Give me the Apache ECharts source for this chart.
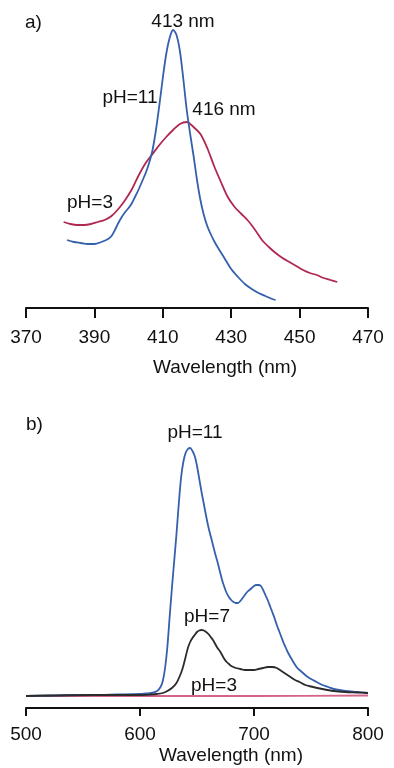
<!DOCTYPE html>
<html>
<head>
<meta charset="utf-8">
<script src="https://cdn.jsdelivr.net/npm/echarts@6/dist/echarts.min.js"></script>
<style>
  html, body { margin: 0; padding: 0; background: #fff; }
  #chart { width: 394px; height: 768px; }
</style>
</head>
<body>
<div id="chart"></div>
<script>
// a) absorbance (arbitrary units) vs wavelength
const wlA11 = [382, 384, 386, 388, 390, 392, 394, 395, 396, 397, 398, 399, 400, 401, 402, 403, 404, 405, 406, 407, 408, 409, 410, 411, 412, 413, 414, 415, 416, 417, 418, 419, 420, 421, 422, 423, 424, 425, 426, 428, 430, 432, 434, 436, 438, 440, 442, 443];
const absA11 = [68, 66, 65, 64, 64, 66, 69, 72, 78, 85, 91, 96, 100, 105, 112, 119, 127, 135, 145, 158, 178, 203, 230, 254, 270, 278, 273, 257, 229, 198, 174, 152, 128, 108, 93, 82, 74, 67, 61, 50, 39, 31, 24, 19, 15, 12, 9, 8];
const wlA3 = [381, 383, 385, 387, 389, 391, 393, 395, 397, 399, 401, 403, 405, 407, 409, 411, 413, 415, 417, 418, 419, 421, 423, 425, 427, 429, 431, 433, 435, 437, 439, 441, 443, 445, 447, 449, 451, 453, 455, 457, 459, 461];
const absA3 = [86, 84, 83, 83, 84, 86, 88, 92, 99, 108, 119, 133, 145, 154, 163, 171, 178, 184, 186, 184, 181, 174, 160, 142, 126, 111, 101, 94, 87, 78, 68, 61, 55, 50, 46, 42, 38, 35, 33, 30, 28, 26];
const ticksA = [370, 390, 410, 430, 450, 470];

// b) emission (arbitrary units) vs wavelength
const wlB11 = [500, 520, 540, 560, 580, 600, 605, 610, 615, 618, 620, 622, 624, 626, 628, 630, 632, 634, 636, 638, 640, 642, 644, 646, 648, 650, 652, 654, 656, 658, 660, 662, 664, 666, 668, 670, 672, 674, 676, 678, 680, 682, 684, 686, 688, 690, 692, 694, 696, 698, 700, 702, 704, 706, 708, 710, 712, 714, 716, 718, 720, 722, 724, 726, 728, 730, 734, 738, 742, 746, 750, 755, 760, 765, 770, 780, 790, 800];
const emB11 = [0, 0.5, 1, 1, 1.5, 2, 2.5, 3, 5, 9, 15, 28, 49, 79, 108, 135, 162, 192, 218, 234, 243, 247, 248, 245, 240, 230, 217, 204, 192, 180, 169, 160, 151, 142, 134, 125, 116, 109, 103, 99, 96, 94, 93, 93, 95, 98, 101, 104, 106, 108, 110, 111, 111, 110, 106, 101, 96, 90, 84, 78, 71, 65, 59, 53, 48, 43, 35, 28, 24, 20, 17, 14, 11, 9, 7, 5, 4, 3];
const wlB7 = [500, 560, 600, 610, 615, 620, 624, 628, 632, 636, 638, 640, 642, 644, 646, 648, 650, 652, 654, 656, 658, 660, 662, 664, 666, 668, 670, 672, 674, 676, 678, 680, 684, 688, 692, 696, 700, 704, 708, 712, 716, 720, 724, 728, 732, 736, 740, 745, 750, 760, 770, 780, 790, 800];
const emB7 = [0, 1, 1, 1.5, 2, 3, 5, 8, 13, 23, 30, 39, 48, 54, 58, 61, 64, 65.5, 66, 65.5, 64, 62, 59, 56, 52, 48, 45, 41, 37, 34, 32, 30, 28, 27, 26, 26, 26, 27, 28, 29, 29, 28, 25, 22, 19, 16, 14, 11, 9.5, 7, 5, 4, 3.5, 3];
const wlB3 = [500, 600, 700, 800];
const emB3 = [0, 0, 0, 0.5];
const ticksB = [500, 600, 700, 800];

const zip = (xs, ys) => xs.map((x, i) => [x, ys[i]]);

const FONT = 'Liberation Sans';
const TXT = '#111';

const xAxisBase = (grid, min, max, ticks, margin, gap, shift, tickLen) => ({
  gridIndex: grid,
  type: 'value',
  min, max,
  axisLine: { show: true, onZero: false, lineStyle: { color: '#111', width: 2 } },
  axisTick: { show: true, length: tickLen, customValues: ticks, lineStyle: { color: '#111', width: 2 } },
  axisLabel: { customValues: ticks, margin, fontSize: 19, color: TXT, fontFamily: FONT },
  splitLine: { show: false },
  name: 'Wavelength (nm)',
  nameLocation: 'middle',
  nameGap: gap,
  nameTextStyle: { fontSize: 19, color: TXT, fontFamily: FONT, padding: [0, 0, 0, shift] }
});

const line = (name, data, color, x, z) => ({
  name, type: 'line', xAxisIndex: x, yAxisIndex: x, data,
  showSymbol: false, smooth: 0.3, z,
  lineStyle: { color, width: 1.8 }
});

const label = (text, x, y, align) => ({
  type: 'text', x, y,
  style: { text, fill: TXT, fontSize: 19, fontFamily: FONT, textAlign: align || 'center', textVerticalAlign: 'middle' }
});

const chart = echarts.init(document.getElementById('chart'));
chart.setOption({
  animation: false,
  backgroundColor: '#fff',
  grid: [
    { left: 26, right: 26, top: 30, height: 278 },
    { left: 26, right: 26, top: 448, height: 260 }
  ],
  xAxis: [
    xAxisBase(0, 370, 470, ticksA, 20, 50, 56, 10),
    xAxisBase(1, 500, 800, ticksB, 17, 38, 68, 8)
  ],
  yAxis: [
    { gridIndex: 0, type: 'value', min: 0, max: 278, show: false },
    { gridIndex: 1, type: 'value', min: -12, max: 248, show: false }
  ],
  series: [
    line('pH=3 (a)', zip(wlA3, absA3), '#b0284f', 0, 2),
    line('pH=11 (a)', zip(wlA11, absA11), '#3560ad', 0, 3),
    line('pH=3 (b)', zip(wlB3, emB3), '#d4648a', 1, 2),
    line('pH=11 (b)', zip(wlB11, emB11), '#3560ad', 1, 3),
    line('pH=7 (b)', zip(wlB7, emB7), '#2b2b2b', 1, 4)
  ],
  graphic: [
    label('a)', 25, 23, 'left'),
    label('413 nm', 183, 22),
    label('pH=11', 130, 98),
    label('416 nm', 224, 110),
    label('pH=3', 90, 203),
    label('b)', 26, 425, 'left'),
    label('pH=11', 195, 433),
    label('pH=7', 207, 617),
    label('pH=3', 214, 686)
  ]
});
</script>
</body>
</html>
